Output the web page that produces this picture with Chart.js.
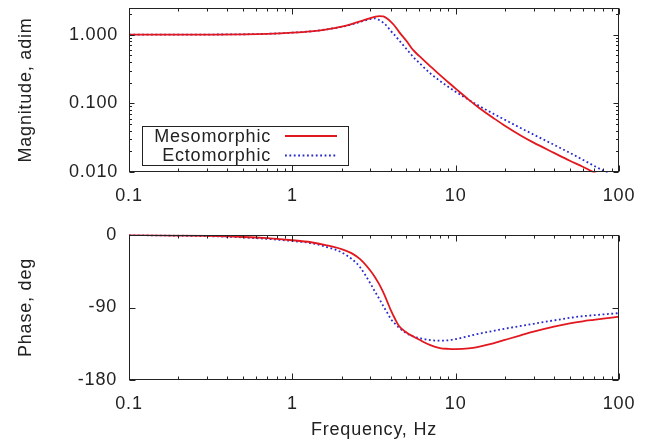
<!DOCTYPE html>
<html>
<head>
<meta charset="utf-8">
<script src="https://cdn.jsdelivr.net/npm/chart.js@4/dist/chart.umd.min.js"></script>
<style>
  html, body { margin: 0; padding: 0; background: #fff; }
  #wrap { position: relative; width: 657px; height: 442px; overflow: hidden; }
  canvas { position: absolute; left: 0; }
  #magCanvas { top: 0; }
  #phaseCanvas { top: 212px; }
</style>
</head>
<body>
<div id="wrap">
  <canvas id="magCanvas" width="657" height="212"></canvas>
  <canvas id="phaseCanvas" width="657" height="230"></canvas>
</div>
<script>
// ---------------- data ----------------
const freqHz = [0.1, 0.2, 0.3, 0.5, 0.7, 1, 1.3, 1.6, 2, 2.3, 2.6, 3, 3.2, 3.4, 3.6, 3.8, 4, 4.25, 4.5, 5, 5.5, 6, 7, 8, 9, 10, 12, 14, 17, 20, 25, 30, 40, 50, 60, 70, 80, 100];

const mesoMag = [1.000, 1.002, 1.005, 1.014, 1.03, 1.07, 1.12, 1.19, 1.31, 1.43, 1.56, 1.75, 1.82, 1.86, 1.85, 1.72, 1.55, 1.33, 1.10, 0.81, 0.595, 0.487, 0.346, 0.26, 0.203, 0.164, 0.1134, 0.0851, 0.0614, 0.0472, 0.0341, 0.0268, 0.019, 0.0146, 0.0119, 0.0099, 0.0084, 0.0065];
const ectoMag = [1.000, 1.002, 1.005, 1.014, 1.03, 1.07, 1.12, 1.19, 1.30, 1.41, 1.54, 1.69, 1.73, 1.64, 1.50, 1.33, 1.14, 0.975, 0.83, 0.62, 0.475, 0.386, 0.273, 0.213, 0.1745, 0.1474, 0.113, 0.091, 0.0707, 0.0577, 0.0437, 0.0351, 0.0249, 0.019, 0.0151, 0.0124, 0.01045, 0.0078];

const mesoPhase = [0, -0.7, -1.2, -2.5, -4, -6.5, -9, -12.5, -17.5, -22.5, -30, -44, -52, -61, -71, -82, -93, -104, -113, -121, -126, -130.1, -136.8, -140.3, -141.3, -141.6, -140.8, -138.5, -134.6, -130.3, -124.5, -120.0, -113.8, -109.7, -107.1, -105.3, -103.8, -101.4];
const ectoPhase = [0, -0.8, -1.4, -3, -4.8, -7.5, -10, -14.5, -21.5, -29.5, -40, -60, -70, -79, -88, -96, -104, -110, -115, -122, -126, -128, -130.5, -131.2, -130.7, -129.2, -125.5, -122.4, -119.1, -116.3, -112.9, -110.2, -106, -102.8, -100.8, -99.6, -98.6, -97];

const seriesNames = ['Mesomorphic', 'Ectomorphic'];

const freqTicks = [0.1, 1, 10, 100];
const freqTickLabels = ['0.1', '1', '10', '100'];
const magTicks = [0.01, 0.1, 1];
const magTickLabels = ['0.010', '0.100', '1.000'];
const phaseTicks = [-180, -90, 0];
const phaseTickLabels = ['-180', '-90', '0'];

const axisTitles = { x: 'Frequency, Hz', mag: 'Magnitude, adim', phase: 'Phase, deg' };

// ---------------- styling ----------------
const FONT = "'Liberation Sans', Arial, Helvetica, sans-serif";
const TXT = '#222';
const RED = 'rgb(226,24,30)';
const BLUE = 'rgb(40,40,205)';

function labelFor(v, vals, labels) {
  for (let i = 0; i < vals.length; i++) {
    const t = vals[i];
    if (Math.abs(v - t) <= 1e-9 + Math.abs(t) * 1e-6) return labels[i];
  }
  return '';
}
function isDecade(v) {
  const l = Math.log10(v);
  return Math.abs(l - Math.round(l)) < 1e-6;
}
function isIntMantissa(v) {
  const m = v / Math.pow(10, Math.floor(Math.log10(v) + 1e-9));
  return Math.abs(m - Math.round(m)) < 1e-6;
}
function pts(ys) { return freqHz.map((f, i) => ({ x: f, y: ys[i] })); }

const spacing = {
  id: 'spacing',
  beforeDraw(chart) { try { chart.ctx.letterSpacing = '0.8px'; } catch (e) {} }
};

const frameTicks = {
  id: 'frameTicks',
  afterDatasetsDraw(chart, args, opts) {
    const { ctx, chartArea: a } = chart;
    const L = Math.round(a.left) + 0.5, R = Math.round(a.right) - 0.5;
    const T = Math.round(a.top) + 0.5, B = Math.round(a.bottom) - 0.5;
    ctx.save();
    ctx.strokeStyle = '#222';
    ctx.lineWidth = 1;
    ctx.beginPath();
    const xs = chart.scales.x;
    xs.ticks.forEach(t => {
      const v = t.value;
      if (!isIntMantissa(v)) return;
      const len = isDecade(v) ? 6 : 3;
      const px = Math.round(xs.getPixelForValue(v)) + 0.5;
      ctx.moveTo(px, B); ctx.lineTo(px, B - len);
      ctx.moveTo(px, T); ctx.lineTo(px, T + len);
    });
    const ys = chart.scales.y;
    ys.ticks.forEach(t => {
      const v = t.value;
      let len;
      if (opts.logY) {
        if (!isIntMantissa(v)) return;
        len = isDecade(v) ? 5 : 2.5;
      } else {
        len = 6;
      }
      const py = Math.round(ys.getPixelForValue(v)) + 0.5;
      ctx.moveTo(L, py); ctx.lineTo(L + len, py);
      ctx.moveTo(R, py); ctx.lineTo(R - len, py);
    });
    ctx.stroke();
    ctx.strokeRect(L, T, R - L, B - T);
    ctx.restore();
  }
};

const keyBox = {
  id: 'keyBox',
  afterDatasetsDraw(chart, args, opts) {
    if (!opts.show) return;
    const { ctx } = chart;
    ctx.save();
    ctx.fillStyle = '#fff';
    ctx.fillRect(142.5, 126.5, 206, 39);
    ctx.strokeStyle = '#222';
    ctx.lineWidth = 1;
    ctx.strokeRect(142.5, 126.5, 206, 39);
    ctx.font = '18px ' + FONT;
    ctx.textAlign = 'right';
    ctx.textBaseline = 'middle';
    try { ctx.letterSpacing = '0.8px'; } catch (e) {}
    const rowsY = [136, 155.5];
    chart.data.datasets.forEach((ds, i) => {
      ctx.fillStyle = TXT;
      ctx.fillText(ds.label, 271, rowsY[i] + 1);
      ctx.beginPath();
      ctx.strokeStyle = ds.borderColor;
      ctx.lineWidth = ds.borderWidth;
      ctx.setLineDash(ds.borderDash || []);
      ctx.moveTo(285, rowsY[i]);
      ctx.lineTo(337, rowsY[i]);
      ctx.stroke();
    });
    ctx.restore();
  }
};

function xAxis(labelPad, fitH, showTitle) {
  return {
    type: 'logarithmic',
    min: 0.1, max: 100,
    grid: { display: false, drawTicks: false },
    border: { display: false },
    ticks: {
      autoSkip: false, maxRotation: 0, minRotation: 0,
      padding: labelPad,
      color: TXT,
      font: { family: FONT, size: 18 },
      callback: (v) => labelFor(v, freqTicks, freqTickLabels)
    },
    title: {
      display: showTitle,
      text: axisTitles.x,
      color: TXT,
      font: { family: FONT, size: 18 },
      padding: { top: 0, bottom: 1 }
    },
    afterFit: (s) => { s.height = fitH; s.paddingLeft = 0; s.paddingRight = 0; }
  };
}

function yFit(s) { s.width = 129; s.paddingTop = 0; s.paddingBottom = 0; }

function makeDatasets(a, b) {
  return [
    { label: seriesNames[0], data: pts(a), borderColor: RED, borderWidth: 1.8, pointRadius: 0, cubicInterpolationMode: 'monotone', fill: false, clip: 0.5 },
    { label: seriesNames[1], data: pts(b), borderColor: BLUE, borderWidth: 1.8, borderDash: [1.8, 2.6], pointRadius: 0, cubicInterpolationMode: 'monotone', fill: false, clip: 0.5 }
  ];
}

const common = {
  responsive: false,
  animation: false,
  events: []
};

new Chart(document.getElementById('magCanvas'), {
  type: 'line',
  data: { datasets: makeDatasets(mesoMag, ectoMag) },
  options: Object.assign({}, common, {
    layout: { padding: { top: 8, right: 38, left: 0, bottom: 0 } },
    plugins: { legend: { display: false }, tooltip: { enabled: false }, frameTicks: { logY: true }, keyBox: { show: true } },
    scales: {
      x: xAxis(13, 40, false),
      y: {
        type: 'logarithmic',
        min: 0.01, max: 2.45,
        grid: { display: false, drawTicks: false },
        border: { display: false },
        ticks: {
          autoSkip: false, padding: 11, color: TXT,
          font: { family: FONT, size: 18 },
          callback: (v) => labelFor(v, magTicks, magTickLabels)
        },
        title: { display: true, text: axisTitles.mag, color: TXT, font: { family: FONT, size: 18 }, padding: { top: 15, bottom: 0 } },
        afterFit: yFit
      }
    }
  }),
  plugins: [spacing, frameTicks, keyBox]
});

new Chart(document.getElementById('phaseCanvas'), {
  type: 'line',
  data: { datasets: makeDatasets(mesoPhase, ectoPhase) },
  options: Object.assign({}, common, {
    layout: { padding: { top: 23, right: 38, left: 0, bottom: 0 } },
    plugins: { legend: { display: false }, tooltip: { enabled: false }, frameTicks: { logY: false }, keyBox: { show: false } },
    scales: {
      x: xAxis(13, 62, true),
      y: {
        type: 'linear',
        min: -180, max: 0,
        grid: { display: false, drawTicks: false },
        border: { display: false },
        ticks: {
          stepSize: 90, padding: 12, color: TXT,
          font: { family: FONT, size: 18 },
          callback: (v) => labelFor(v, phaseTicks, phaseTickLabels)
        },
        title: { display: true, text: axisTitles.phase, color: TXT, font: { family: FONT, size: 18 }, padding: { top: 15, bottom: 0 } },
        afterFit: yFit
      }
    }
  }),
  plugins: [spacing, frameTicks, keyBox]
});
</script>
</body>
</html>
